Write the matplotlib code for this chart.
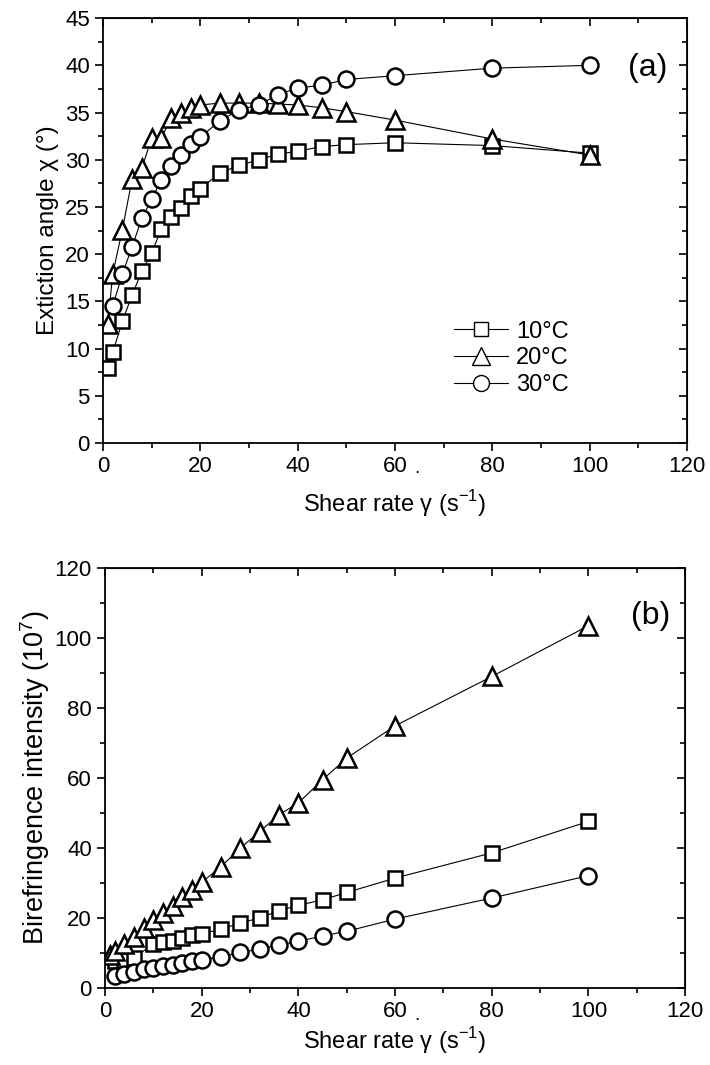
import numpy as np
import matplotlib
matplotlib.use('Agg')
import matplotlib.pyplot as plt
from matplotlib.ticker import MultipleLocator

plt.rcParams['font.family'] = ['Liberation Sans', 'DejaVu Sans']
plt.rcParams['mathtext.fontset'] = 'custom'
plt.rcParams['mathtext.rm'] = 'Liberation Sans'

# (a) extinction angle
x_a10 = [1, 2, 4, 6, 8, 10, 12, 14, 16, 18, 20, 24, 28, 32, 36, 40, 45, 50, 60, 80, 100]
y_a10 = [7.9, 9.6, 12.9, 15.7, 18.2, 20.1, 22.7, 23.9, 24.9, 26.2, 26.9, 28.6, 29.4, 30.0, 30.6,
         30.9, 31.4, 31.6, 31.8, 31.5, 30.7]
x_a20 = [1, 2, 4, 6, 8, 10, 12, 14, 16, 18, 20, 24, 28, 32, 36, 40, 45, 50, 60, 80, 100]
y_a20 = [12.6, 17.9, 22.6, 28.0, 29.1, 32.3, 32.3, 34.4, 35.0, 35.5, 35.8, 36.0, 36.0, 36.0, 35.9,
         35.8, 35.5, 35.1, 34.2, 32.2, 30.5]
x_a30 = [2, 4, 6, 8, 10, 12, 14, 16, 18, 20, 24, 28, 32, 36, 40, 45, 50, 60, 80, 100]
y_a30 = [14.5, 17.9, 20.8, 23.8, 25.8, 27.9, 29.3, 30.5, 31.7, 32.4, 34.1, 35.3, 35.8, 36.9,
         37.6, 37.9, 38.5, 38.9, 39.7, 40.0]

# (b) birefringence intensity
x_b10 = [2, 4, 6, 10, 12, 14, 16, 18, 20, 24, 28, 32, 36, 40, 45, 50, 60, 80, 100]
y_b10 = [7.6, 8.1, 8.6, 12.6, 13.0, 13.5, 14.3, 15.0, 15.5, 16.8, 18.6, 20.0, 22.1, 23.6, 25.2,
         27.3, 31.4, 38.6, 47.6]
x_b20 = [1, 2, 4, 6, 8, 10, 12, 14, 16, 18, 20, 24, 28, 32, 36, 40, 45, 50, 60, 80, 100]
y_b20 = [9.5, 10.5, 12.5, 14.5, 17.0, 19.5, 21.5, 23.5, 26.0, 28.0, 30.2, 34.7, 40.0, 44.7, 49.5,
         52.9, 59.5, 65.7, 74.9, 89.0, 103.5]
x_b30 = [2, 4, 6, 8, 10, 12, 14, 16, 18, 20, 24, 28, 32, 36, 40, 45, 50, 60, 80, 100]
y_b30 = [3.3, 4.0, 4.6, 5.3, 5.7, 6.4, 6.7, 7.1, 7.6, 8.1, 8.9, 10.2, 11.1, 12.4, 13.3, 14.9,
         16.2, 19.7, 25.7, 32.1]

labels = ['10°C', '20°C', '30°C']

fig = plt.figure(figsize=(7.1, 10.65), dpi=100)
ax1 = fig.add_axes([0.145, 0.584, 0.8226, 0.399])
ax2 = fig.add_axes([0.148, 0.0723, 0.817, 0.3944])

style = dict(color='black', lw=0.8, mfc='white', mec='black', mew=1.8)


def setup(ax):
    ax.set_xlim(0, 120)
    ax.xaxis.set_major_locator(MultipleLocator(20))
    ax.xaxis.set_minor_locator(MultipleLocator(10))
    for s in ax.spines.values():
        s.set_linewidth(1.3)
    ax.tick_params(which='both', direction='out', top=False, right=False, labelsize=16, width=1.2)
    ax.tick_params(which='major', length=6)
    ax.tick_params(which='minor', length=3.5)
    sec = ax.secondary_xaxis('top')
    sec.xaxis.set_major_locator(MultipleLocator(20))
    sec.xaxis.set_minor_locator(MultipleLocator(10))
    sec.tick_params(which='both', direction='in', labeltop=False, width=1.2)
    sec.tick_params(which='major', length=6)
    sec.tick_params(which='minor', length=3.5)
    secy = ax.secondary_yaxis('right')
    secy.tick_params(which='both', direction='in', labelright=False, width=1.2)
    secy.tick_params(which='major', length=6)
    secy.tick_params(which='minor', length=3.5)
    return secy


# panel (a)
ax1.plot(x_a10, y_a10, marker='s', ms=10.5, label=labels[0], **style)
ax1.plot(x_a20, y_a20, marker='^', ms=13, label=labels[1], **style)
ax1.plot(x_a30, y_a30, marker='o', ms=11.5, label=labels[2], **style)
secy1 = setup(ax1)
ax1.set_ylim(0, 45)
ax1.yaxis.set_major_locator(MultipleLocator(5))
ax1.yaxis.set_minor_locator(MultipleLocator(2.5))
secy1.yaxis.set_major_locator(MultipleLocator(5))
secy1.yaxis.set_minor_locator(MultipleLocator(2.5))
ax1.set_ylabel('Extiction angle χ (°)', fontsize=17.5, labelpad=4)
ax1.set_xlabel('Shear rate γ (s$^{-1}$)', fontsize=17, labelpad=8)
ax1.text(0.538, -0.07, '.', transform=ax1.transAxes, fontsize=14, ha='center')
ax1.text(0.967, 0.882, '(a)', transform=ax1.transAxes, fontsize=23, ha='right', va='center')
leg = ax1.legend(loc='lower right', bbox_to_anchor=(0.814, 0.088), frameon=False, fontsize=17,
                 handlelength=2.3, handletextpad=0.35, labelspacing=0.2, borderaxespad=0)
for h in leg.legend_handles:
    h.set_markeredgewidth(1.0)

# panel (b)
ax2.plot(x_b10, y_b10, marker='s', ms=10.5, **style)
ax2.plot(x_b20, y_b20, marker='^', ms=13, **style)
ax2.plot(x_b30, y_b30, marker='o', ms=11.5, **style)
secy2 = setup(ax2)
ax2.set_ylim(0, 120)
ax2.yaxis.set_major_locator(MultipleLocator(20))
ax2.yaxis.set_minor_locator(MultipleLocator(10))
secy2.yaxis.set_major_locator(MultipleLocator(20))
secy2.yaxis.set_minor_locator(MultipleLocator(10))
ax2.set_ylabel('Birefringence intensity (10$^{7}$)', fontsize=19.5, labelpad=2)
ax2.set_xlabel('Shear rate γ (s$^{-1}$)', fontsize=17, labelpad=2)
ax2.text(0.538, -0.075, '.', transform=ax2.transAxes, fontsize=14, ha='center')
ax2.text(0.974, 0.886, '(b)', transform=ax2.transAxes, fontsize=23, ha='right', va='center')

fig.savefig('out.png', dpi=100)
